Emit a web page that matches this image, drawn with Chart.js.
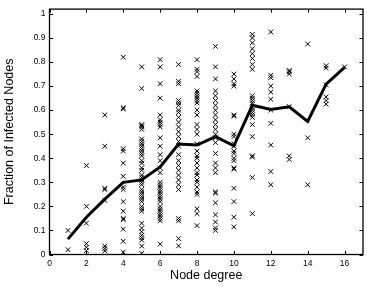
<!DOCTYPE html>
<html>
<head>
<meta charset="utf-8">
<script src="https://cdn.jsdelivr.net/npm/chart.js@4/dist/chart.umd.min.js"></script>
<style>
  html, body { margin: 0; padding: 0; background: #fff; overflow: hidden; }
  #wrap { width: 368px; height: 287px; }
</style>
</head>
<body>
<div id="wrap"><canvas id="chart" width="368" height="287"></canvas></div>
<script>
// infected fraction per run, grouped by node degree
const deg1 = [0.10, 0.02]
const deg2 = [0.37, 0.20, 0.13, 0.045, 0.03, 0.016]
const deg3 = [0.58, 0.45, 0.275, 0.27, 0.225, 0.035, 0.025, 0.015]
const deg4 = [0.82, 0.61, 0.605, 0.44, 0.43, 0.38, 0.325, 0.28, 0.27, 0.22, 0.18, 0.15, 0.145, 0.105, 0.055, 0.01]
const deg5 = [0.78, 0.69, 0.54, 0.535, 0.53, 0.52, 0.48, 0.47, 0.46, 0.45, 0.44, 0.43, 0.42, 0.41, 0.39, 0.38, 0.36, 0.35, 0.33, 0.32,
              0.31, 0.30, 0.29, 0.27, 0.26, 0.25, 0.24, 0.23, 0.22, 0.20, 0.19, 0.18, 0.13, 0.11, 0.095, 0.08, 0.07, 0.06, 0.035, 0.005]
const deg6 = [0.81, 0.78, 0.71, 0.65, 0.58, 0.56, 0.55, 0.54, 0.53, 0.485, 0.45, 0.415, 0.39, 0.36, 0.34, 0.30,
              0.29, 0.28, 0.27, 0.26, 0.25, 0.24, 0.23, 0.22, 0.20, 0.19, 0.18, 0.17, 0.16, 0.15, 0.14, 0.043]
const deg7 = [0.79, 0.72, 0.71, 0.64, 0.63, 0.62, 0.60, 0.59, 0.57, 0.55, 0.53, 0.51, 0.49, 0.47, 0.45, 0.415,
              0.39, 0.37, 0.35, 0.33, 0.31, 0.29, 0.27, 0.15, 0.14, 0.066, 0.036]
const deg8 = [0.81, 0.77, 0.76, 0.74, 0.68, 0.67, 0.66, 0.65, 0.64, 0.63, 0.60, 0.58, 0.54, 0.52, 0.50, 0.46,
              0.43, 0.41, 0.40, 0.38, 0.36, 0.34, 0.33, 0.31, 0.30, 0.28, 0.26, 0.25, 0.19, 0.17, 0.12]
const deg9 = [0.865, 0.78, 0.73, 0.68, 0.66, 0.64, 0.62, 0.60, 0.58, 0.56, 0.54, 0.52, 0.50, 0.485, 0.465,
              0.42, 0.38, 0.36, 0.34, 0.26, 0.255, 0.215, 0.165, 0.135, 0.11, 0.10]
const deg10 = [0.75, 0.73, 0.71, 0.70, 0.58, 0.575, 0.50, 0.49, 0.46, 0.45, 0.43, 0.42, 0.40, 0.39, 0.36, 0.355, 0.275, 0.22, 0.155, 0.115]
const deg11 = [0.915, 0.90, 0.88, 0.855, 0.835, 0.815, 0.79, 0.77, 0.66, 0.65, 0.64, 0.63, 0.61, 0.60, 0.59, 0.58, 0.57,
               0.54, 0.49, 0.41, 0.405, 0.32, 0.17]
const deg12 = [0.925, 0.745, 0.735, 0.70, 0.675, 0.645, 0.60, 0.545, 0.455, 0.345, 0.29]
const deg13 = [0.765, 0.76, 0.75, 0.615, 0.41, 0.395]
const deg14 = [0.875, 0.485, 0.29]
const deg15 = [0.785, 0.775, 0.705, 0.655, 0.64, 0.625]
const deg16 = [0.78]

const degrees = [1, 2, 3, 4, 5, 6, 7, 8, 9, 10, 11, 12, 13, 14, 15, 16]
const runs = [deg1, deg2, deg3, deg4, deg5, deg6, deg7, deg8, deg9, deg10, deg11, deg12, deg13, deg14, deg15, deg16]
const meanFraction = [0.064, 0.155, 0.23, 0.30, 0.31, 0.364, 0.459, 0.455, 0.49, 0.452, 0.62, 0.603, 0.614, 0.553, 0.708, 0.778]

const xTicks = [0, 2, 4, 6, 8, 10, 12, 14, 16]
const yTicks = [0, 0.1, 0.2, 0.3, 0.4, 0.5, 0.6, 0.7, 0.8, 0.9, 1]

const FONT = "'Liberation Sans', Arial, Helvetica, sans-serif"

// matlab style box with inward ticks on all four sides
const boxPlugin = {
  id: "box",
  afterDraw(chart) {
    const { ctx, chartArea: a, scales: { x, y } } = chart
    const t = 3.5
    ctx.save()
    ctx.strokeStyle = "#000"
    ctx.lineWidth = 1
    ctx.beginPath()
    xTicks.forEach(v => {
      const px = Math.round(x.getPixelForValue(v)) + 0.5
      ctx.moveTo(px, a.bottom); ctx.lineTo(px, a.bottom - t)
      ctx.moveTo(px, a.top); ctx.lineTo(px, a.top + t)
    })
    yTicks.forEach(v => {
      const py = Math.round(y.getPixelForValue(v)) + 0.5
      ctx.moveTo(a.left, py); ctx.lineTo(a.left + t, py)
      ctx.moveTo(a.right, py); ctx.lineTo(a.right - t, py)
    })
    ctx.stroke()
    ctx.lineWidth = 1.3
    ctx.strokeRect(a.left, a.top, a.right - a.left, a.bottom - a.top)
    ctx.restore()
  }
}

new Chart(document.getElementById("chart"), {
  type: "scatter",
  data: {
    datasets: [
      {
        type: "line",
        data: degrees.map((d, i) => ({ x: d, y: meanFraction[i] })),
        borderColor: "#000",
        borderWidth: 3,
        pointRadius: 0,
        fill: false,
        tension: 0,
        order: 0
      },
      {
        data: runs.flatMap((vals, i) => vals.map(v => ({ x: degrees[i], y: v }))),
        pointStyle: "crossRot",
        pointRadius: 3.3,
        borderColor: "#000",
        borderWidth: 1,
        order: 1
      }
    ]
  },
  options: {
    responsive: false,
    animation: false,
    layout: { padding: { top: 4, right: 0, left: 0, bottom: 0 } },
    plugins: { legend: { display: false }, tooltip: { enabled: false } },
    scales: {
      x: {
        type: "linear", min: 0, max: 17,
        afterBuildTicks: s => { s.ticks = xTicks.map(v => ({ value: v })) },
        afterFit: s => { s.height = 32.5 },
        grid: { display: false, drawTicks: false },
        border: { display: false },
        ticks: { color: "#000", padding: 4, font: { family: FONT, size: 8.5 } },
        title: { display: true, text: "Node degree", color: "#000", font: { family: FONT, size: 12.5 }, padding: { top: 0, bottom: 4 } }
      },
      y: {
        type: "linear", min: 0, max: 1.02,
        afterBuildTicks: s => { s.ticks = yTicks.map(v => ({ value: v })) },
        afterFit: s => { s.width = 49.5 },
        grid: { display: false, drawTicks: false },
        border: { display: false },
        ticks: { color: "#000", padding: 4, font: { family: FONT, size: 8.5 }, callback: v => String(v) },
        title: { display: true, text: "Fraction of Infected Nodes", color: "#000", font: { family: FONT, size: 12.5 }, padding: { top: 2, bottom: 0 } }
      }
    }
  },
  plugins: [boxPlugin]
})
</script>
</body>
</html>
